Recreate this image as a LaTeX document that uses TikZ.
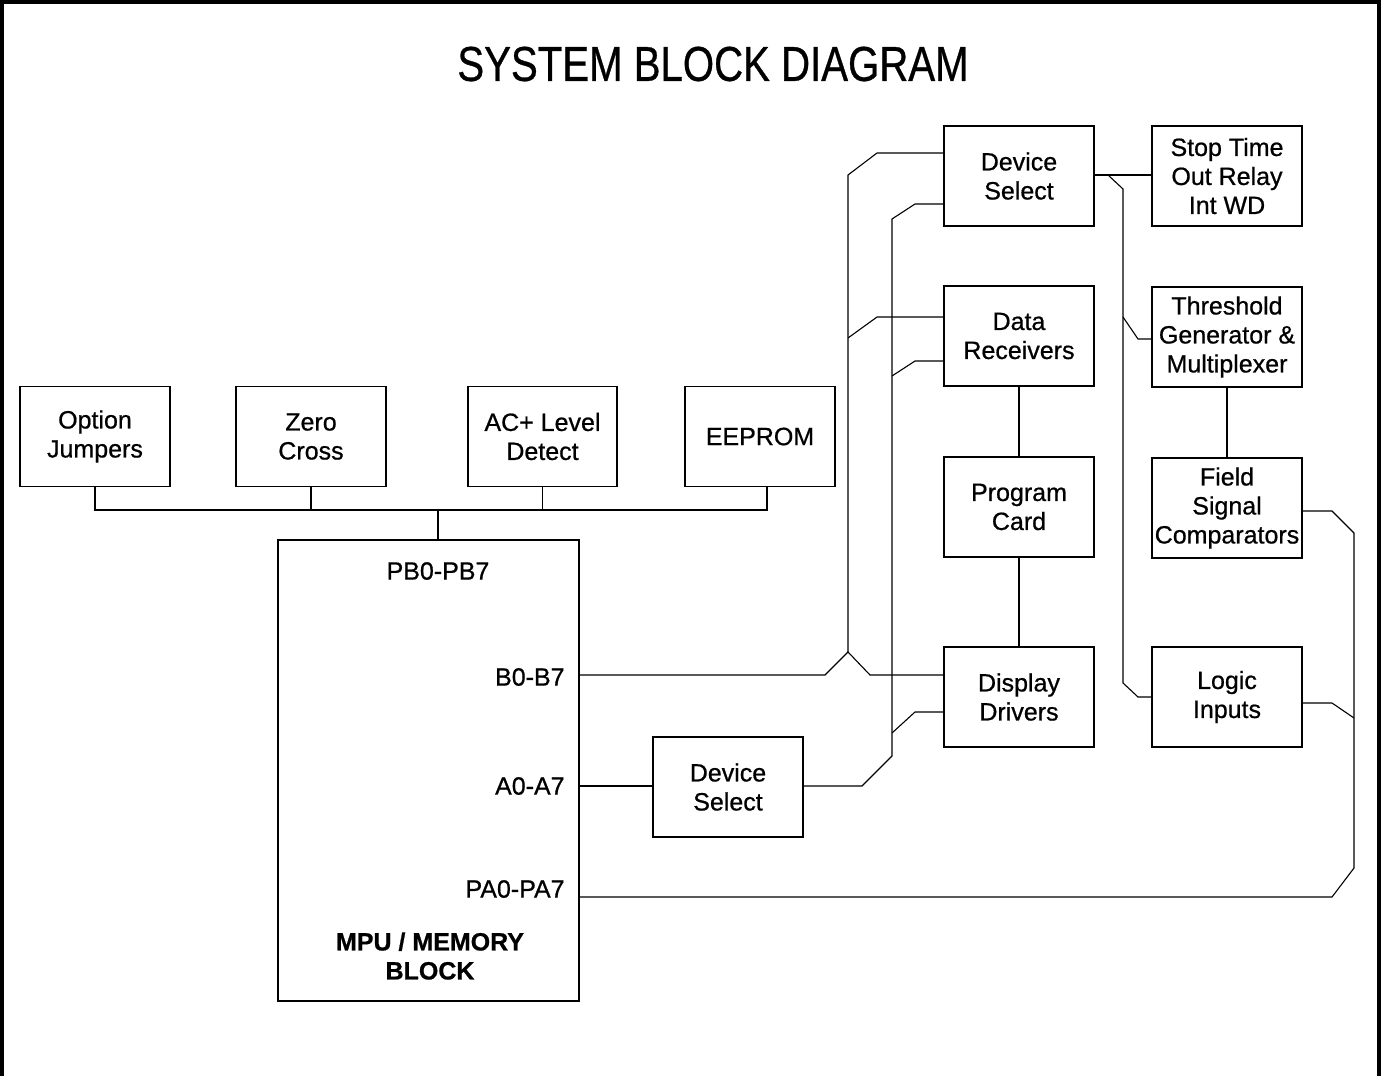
\documentclass[tikz,border=0pt]{standalone}
\usepackage{fontspec}
\setmainfont{Liberation Sans}[FakeBold=0.7]
\newfontfamily\boldish{Liberation Sans}[FakeBold=0.7]
\begin{document}
\begin{tikzpicture}[x=0.5pt,y=-0.5pt,
  blk/.style={draw,line width=0.7pt,minimum width=75pt,minimum height=50pt,inner sep=0pt,align=center,
    font=\fontsize{12.5pt}{14.5pt}\selectfont},
  wire/.style={line width=0.55pt,line join=miter},
  lbl/.style={inner sep=0pt,font=\fontsize{12.5pt}{14.5pt}\selectfont,align=center}]
\useasboundingbox (0,0) rectangle (1381,1076);
% frame
\draw[line width=2pt] (2,1076) -- (2,2) -- (1379,2) -- (1379,1076);
% title
\node[inner sep=0pt] (title) at (713,64) {\scalebox{0.82}[1]{\fontsize{24.5pt}{28pt}\selectfont SYSTEM BLOCK DIAGRAM}};
% top row
\node[blk] (oj) at (95,436.5) {Option\\Jumpers};
\node[blk] (zc) at (311,436.5) {Zero\\Cross};
\node[blk,minimum width=74.5pt] (ac) at (542.5,436.5) {AC+ Level\\Detect};
\node[blk] (ee) at (760,436.5) {EEPROM};
% MPU
\node[draw,line width=0.7pt,minimum width=150.5pt,minimum height=230.5pt,inner sep=0pt] (mpu) at (428.5,770.5) {};
\node[lbl] (pb) at (438,571) {PB0-PB7};
\node[lbl,anchor=east] (lb) at (565,677) {B0-B7};
\node[lbl,anchor=east] (la) at (565,786) {A0-A7};
\node[lbl,anchor=east] (lpa) at (565,889) {PA0-PA7};
\node[lbl,font=\bfseries\fontsize{12.5pt}{14.5pt}\selectfont] (mm) at (430,956) {MPU / MEMORY\\BLOCK};
% middle column
\node[blk] (ds2) at (728,787) {Device\\Select};
\node[blk] (ds1) at (1019,176) {Device\\Select};
\node[blk] (dr) at (1019,336) {Data\\Receivers};
\node[blk] (pc) at (1019,507) {Program\\Card};
\node[blk] (dd) at (1019,697) {Display\\Drivers};
% right column
\node[blk] (st) at (1227,176) {Stop Time\\Out Relay\\Int WD};
\node[blk] (tg) at (1227,337) {Threshold\\Generator \&\\Multiplexer};
\node[blk] (fs) at (1227,508) {Field\\Signal\\Comparators};
\node[blk] (li) at (1227,697) {Logic\\Inputs};
% top bus
\coordinate (busY) at (0,510);
\coordinate (pbx) at (438,0);
\coordinate (eex) at (767,0);
\draw[wire] (oj.south) -- (oj.south |- busY) -- (eex |- busY) -- (eex |- ee.south);
\draw[wire] (zc.south) -- (zc.south |- busY);
\draw[wire] (ac.south) -- (ac.south |- busY);
\draw[wire] (pbx |- busY) -- (pbx |- mpu.north);
% B0-B7 bus
\coordinate (b1) at (825,675);
\coordinate (b2) at (848,652);
\coordinate (b3) at (870,675);
\coordinate (b4) at (848,175);
\coordinate (b5) at (877,153);
\coordinate (b6) at (848,338);
\coordinate (b7) at (877,317);
\draw[wire] (mpu.east |- b1) -- (b1) -- (b2) -- (b3) -- (dd.west |- b3);
\draw[wire] (b2) -- (b4) -- (b5) -- (ds1.west |- b5);
\draw[wire] (b6) -- (b7) -- (dr.west |- b7);
% A0-A7 bus
\coordinate (a0) at (0,786);
\coordinate (a1) at (862,786);
\coordinate (a2) at (892,756);
\coordinate (a3) at (892,219);
\coordinate (a4) at (915,204);
\coordinate (a5) at (892,376);
\coordinate (a6) at (915,361);
\coordinate (a7) at (892,733);
\coordinate (a8) at (915,712);
\draw[wire] (mpu.east |- a0) -- (ds2.west |- a0);
\draw[wire] (ds2.east |- a1) -- (a1) -- (a2) -- (a3) -- (a4) -- (ds1.west |- a4);
\draw[wire] (a5) -- (a6) -- (dr.west |- a6);
\draw[wire] (a7) -- (a8) -- (dd.west |- a8);
% vertical links
\draw[wire] (dr.south) -- (pc.north);
\draw[wire] (pc.south) -- (dd.north);
\draw[wire] (tg.south) -- (fs.north);
% right bus
\coordinate (r0) at (1108,175);
\coordinate (r1) at (1123,189);
\coordinate (r2) at (1123,683);
\coordinate (r3) at (1138,697);
\coordinate (r4) at (1123,317);
\coordinate (r5) at (1138,339);
\draw[wire] (ds1.east |- r0) -- (st.west |- r0);
\draw[wire] (r0) -- (r1) -- (r2) -- (r3) -- (li.west |- r3);
\draw[wire] (r4) -- (r5) -- (tg.west |- r5);
% far right bus
\coordinate (f0) at (1332,511);
\coordinate (f1) at (1354,533);
\coordinate (f2) at (1354,868);
\coordinate (f3) at (1332,897);
\coordinate (f4) at (1332,703);
\coordinate (f5) at (1354,718);
\draw[wire] (fs.east |- f0) -- (f0) -- (f1) -- (f2) -- (f3) -- (mpu.east |- f3);
\draw[wire] (li.east |- f4) -- (f4) -- (f5);
\end{tikzpicture}
\end{document}
